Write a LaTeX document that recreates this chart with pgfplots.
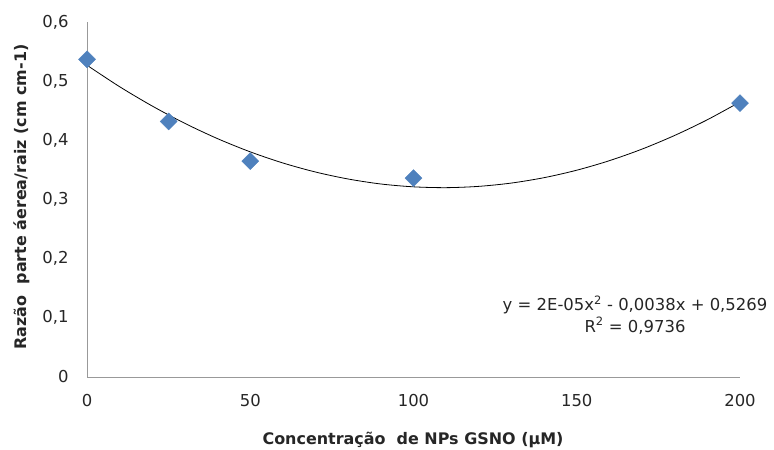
\documentclass[border=0pt]{standalone}
\usepackage{pgfplots}
\pgfplotsset{compat=1.18}
\usepackage{fontspec}
\setmainfont{DejaVu Sans}
\definecolor{ptblue}{HTML}{4F81BD}
\definecolor{txt}{HTML}{262626}
\begin{document}
\begin{tikzpicture}[x=1bp,y=1bp]
\useasboundingbox (0,0) rectangle (774,450);
\begin{axis}[
  at={(87bp,73bp)}, anchor=origin,
  scale only axis, width=653bp, height=355bp,
  xmin=0, xmax=200, ymin=0, ymax=0.6,
  axis x line*=bottom, axis y line*=left,
  axis line style={draw=gray!80, line width=0.8bp, -},
  xtick={0,50,100,150,200},
  ytick={0,0.1,0.2,0.3,0.4,0.5,0.6},
  major tick length=0pt,
  /pgf/number format/assume math mode=true,
  /pgf/number format/use comma,
  /pgf/number format/fixed,
  yticklabel style={font=\fontsize{16.5}{18}\selectfont, text=txt, xshift=-15bp},
  xticklabel style={font=\fontsize{16.5}{18}\selectfont, text=txt, yshift=-14bp},
  clip=false,
]
\addplot[black, line width=0.8bp, smooth, no marks] coordinates {
(0,0.5269) (10,0.4906) (20,0.4579) (30,0.4286) (40,0.4028) (50,0.3805)
(60,0.3617) (70,0.3464) (80,0.3346) (90,0.3262) (100,0.3214) (110,0.3200)
(120,0.3222) (130,0.3278) (140,0.3369) (150,0.3495) (160,0.3656) (170,0.3852)
(180,0.4083) (190,0.4348) (200,0.4649)};
\addplot[only marks, mark=square*, mark size=6bp, mark options={rotate=45, fill=ptblue, draw=ptblue}] coordinates {
(0,0.537) (25,0.432) (50,0.365) (100,0.336) (200,0.463)};
\end{axis}
\node[font=\fontsize{16}{18}\selectfont\bfseries, text=txt, inner sep=0pt] at (413,10) {Concentração\ \ de NPs GSNO (µM)};
\node[font=\fontsize{16}{18}\selectfont\bfseries, text=txt, inner sep=0pt, rotate=90] at (22,253) {Razão\ \ parte áerea/raiz (cm cm-1)};
\node[font=\fontsize{16.5}{18}\selectfont, text=txt, align=center, inner sep=0pt] at (635,135) {y = 2E-05x\textsuperscript{2} - 0,0038x + 0,5269\\[2bp] R\textsuperscript{2} = 0,9736};
\end{tikzpicture}
\end{document}
